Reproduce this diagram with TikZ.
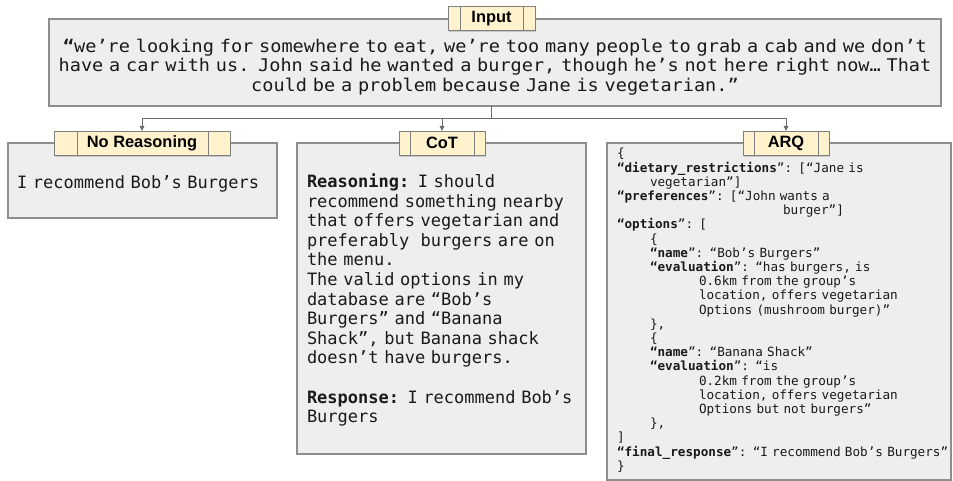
\documentclass[tikz,border=0pt]{standalone}
\usepackage{fontspec}
\setsansfont{Liberation Sans}
\setmonofont{DejaVu Sans Mono}
\newfontfamily\inputmono[FakeStretch=1.06]{DejaVu Sans Mono}
\usetikzlibrary{arrows.meta,shadows}
\definecolor{boxfill}{HTML}{EEEEEE}
\definecolor{boxline}{HTML}{8E8E8E}
\definecolor{lblfill}{HTML}{FFF2CC}
\definecolor{lblline}{HTML}{7F7F7F}
\definecolor{connc}{HTML}{6A6A6A}
\definecolor{txt}{HTML}{1A1A1A}
\newcommand{\jkey}[1]{\textbf{“#1}”}
\tikzset{
  panel/.style={draw=boxline, line width=1.1pt, fill=boxfill, inner sep=0pt, outer sep=0pt},
  lbl/.style={draw=lblline, line width=0.9pt, fill=lblfill, inner sep=0pt, outer sep=0pt,
    minimum height=24pt, font=\sffamily\bfseries\fontsize{16.4}{18}\selectfont, text=black,
    drop shadow={shadow xshift=1.2pt, shadow yshift=-1.8pt, opacity=0.35}},
  lblbar/.style={draw=lblline, line width=0.9pt},
  conn/.style={draw=connc, line width=1pt},
  arr/.style={conn, -{Triangle[length=5pt,width=4.5pt]}},
  bodytxt/.style={inner sep=0pt, outer sep=0pt, text=txt, align=left,
    font=\ttfamily\fontsize{17}{19.6}\selectfont},
}
\begin{document}
\begin{tikzpicture}[x=1pt,y=-1pt]
\useasboundingbox (0,0) rectangle (953,481);
% panels
\node[panel, minimum width=892pt, minimum height=87pt] (input) at (495,62.5) {};
\node[panel, minimum width=269pt, minimum height=75pt] (nr) at (142.5,180.5) {};
\node[panel, minimum width=289pt, minimum height=311pt] (cot) at (441.5,298.5) {};
\node[panel, minimum width=344pt, minimum height=337pt] (arq) at (779,311.5) {};
% texts
\node[inner sep=0pt, outer sep=0pt, text=txt, text width=890pt, align=center, anchor=base,
  font=\inputmono\fontsize{17.5}{19.5}\selectfont] (inputtxt) at (495,52.4)
  {{\bfseries “}we’re looking for somewhere to eat, we’re too many people to grab a cab and we don’t\\
   have a car with us. John said he wanted a burger, though he’s not here right now… That\\
   could be a problem because Jane is vegetarian.”};
\node[bodytxt, text width=265pt, anchor=base west] (nrtxt) at (17,189)
  {I recommend Bob’s Burgers};
\node[bodytxt, text width=278pt, anchor=base west] (cottxt) at (307,187.5)
  {\textbf{Reasoning:} I should\\
   recommend something nearby\\
   that offers vegetarian and\\
   preferably\ \ burgers are on\\
   the menu.\\
   The valid options in my\\
   database are “Bob’s\\
   Burgers” and “Banana\\
   Shack”, but Banana shack\\
   doesn’t have burgers.\\
   \strut\\
   \textbf{Response:} I recommend Bob’s\\
   Burgers};
\node[bodytxt, text width=340pt, anchor=base west, font=\ttfamily\fontsize{12.65}{14.2}\selectfont] (arqtxt) at (617,158)
  {\{\\
   \jkey{dietary\_restrictions}: [“Jane is\\
   \hspace*{33pt}vegetarian”]\\
   \jkey{preferences}: [“John wants a\\
   \hspace*{166pt}burger”]\\
   \jkey{options}: [\\
   \hspace*{33pt}\{\\
   \hspace*{33pt}\jkey{name}: “Bob’s Burgers”\\
   \hspace*{33pt}\jkey{evaluation}: “has burgers, is\\
   \hspace*{82pt}0.6km from the group’s\\
   \hspace*{82pt}location, offers vegetarian\\
   \hspace*{82pt}Options (mushroom burger)”\\
   \hspace*{33pt}\},\\
   \hspace*{33pt}\{\\
   \hspace*{33pt}\jkey{name}: “Banana Shack”\\
   \hspace*{33pt}\jkey{evaluation}: “is\\
   \hspace*{82pt}0.2km from the group’s\\
   \hspace*{82pt}location, offers vegetarian\\
   \hspace*{82pt}Options but not burgers”\\
   \hspace*{33pt}\},\\
   ]\\
   \jkey{final\_response}: “I recommend Bob’s Burgers”\\
   \}};
% labels
\node[lbl, minimum width=87pt] (inlbl) at (491.5,18.5) {Input};
\draw[lblbar] ([xshift=12pt]inlbl.north west) -- ([xshift=12pt]inlbl.south west);
\draw[lblbar] ([xshift=-12pt]inlbl.north east) -- ([xshift=-12pt]inlbl.south east);
\node[lbl, minimum width=176pt] (nrlbl) at (142,143) {No Reasoning};
\draw[lblbar] ([xshift=23pt]nrlbl.north west) -- ([xshift=23pt]nrlbl.south west);
\draw[lblbar] ([xshift=-22pt]nrlbl.north east) -- ([xshift=-22pt]nrlbl.south east);
\node[lbl, minimum width=86pt] (cotlbl) at (442,143) {CoT};
\draw[lblbar] ([xshift=11pt]cotlbl.north west) -- ([xshift=11pt]cotlbl.south west);
\draw[lblbar] ([xshift=-11pt]cotlbl.north east) -- ([xshift=-11pt]cotlbl.south east);
\node[lbl, minimum width=86pt] (arqlbl) at (786,143) {ARQ};
\draw[lblbar] ([xshift=11pt]arqlbl.north west) -- ([xshift=11pt]arqlbl.south west);
\draw[lblbar] ([xshift=-11pt]arqlbl.north east) -- ([xshift=-11pt]arqlbl.south east);
% connectors
\coordinate (split) at (491.5,119);
\draw[conn] (input.south -| split) -- (split);
\draw[arr] (split) -| (nrlbl.north);
\draw[arr] (split) -| (cotlbl.north);
\draw[arr] (split) -| (arqlbl.north);
\end{tikzpicture}
\end{document}
